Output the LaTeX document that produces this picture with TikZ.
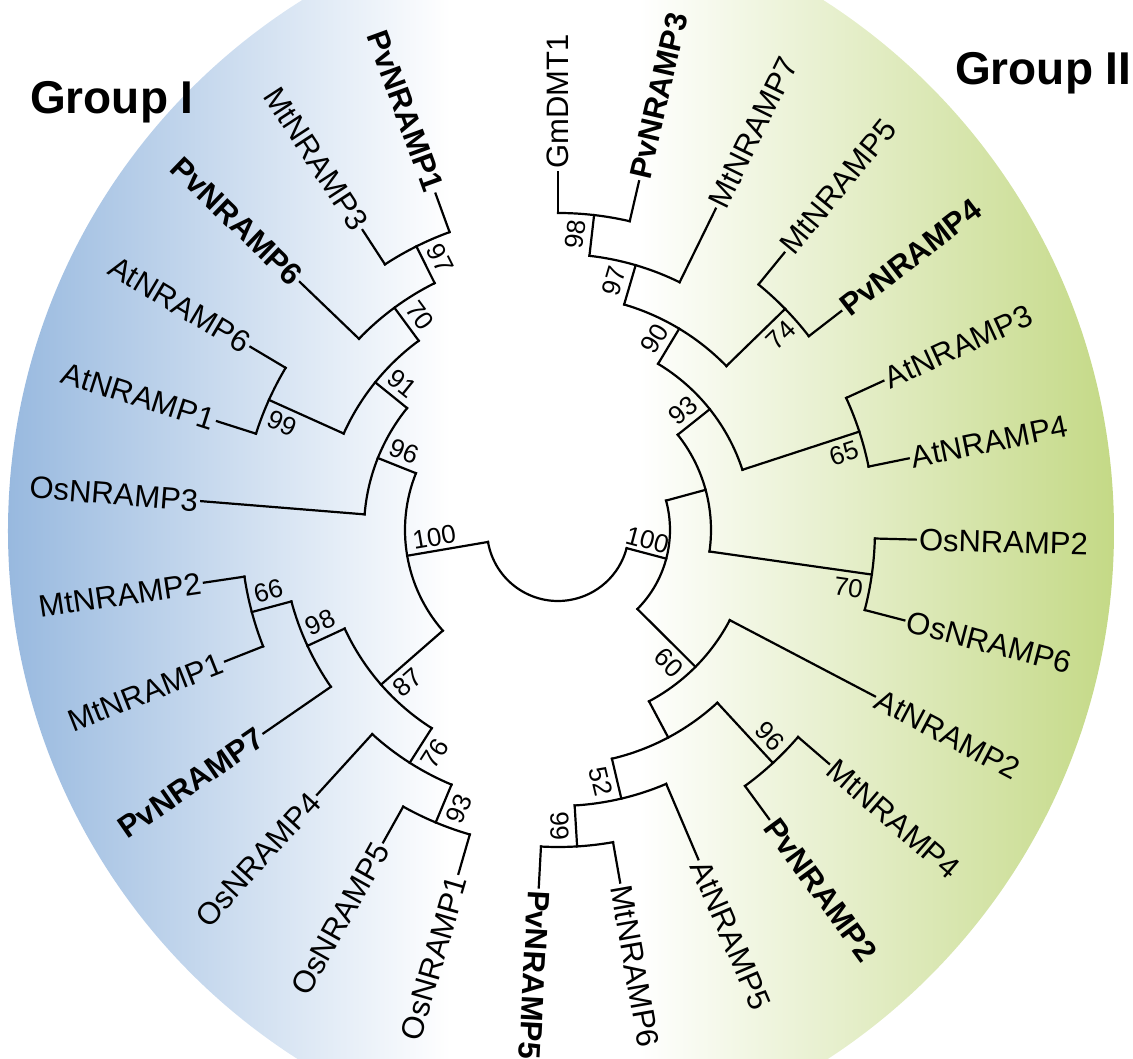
\documentclass[tikz,border=0pt]{standalone}
\usepackage{fontspec}
\setmainfont{Liberation Sans}
\definecolor{grpblue}{RGB}{152,185,223}
\definecolor{grpgreen}{RGB}{196,217,134}
\pgfdeclarehorizontalshading{groupshade}{100bp}{color(0bp)=(grpblue); color(25bp)=(grpblue); color(45bp)=(white); color(53.5bp)=(white); color(75bp)=(grpgreen); color(100bp)=(grpgreen)}
\newcommand{\treebranch}[4]{%
  \coordinate (#1-b) at (#2:#3);
  \coordinate (#1) at (#2:#4);
  \draw[branchline] (#1-b) -- (#1);}
\newcommand{\treearc}[4]{\draw[branchline] (#1-b) arc[start angle=#2, end angle=#3, radius=#4];}

\begin{document}
\begin{tikzpicture}[
  x=1pt, y=1pt,
  branchline/.style={line width=2.2pt, line cap=rect},
  leafr/.style={anchor=west, inner sep=3pt, font=\fontsize{31}{37}\selectfont},
  leafl/.style={anchor=east, inner sep=3pt, font=\fontsize{31}{37}\selectfont},
  pv/.style={font=\bfseries\fontsize{31}{37}\selectfont},
  boot/.style={inner sep=0pt, font=\fontsize{26}{30}\selectfont},
  group/.style={anchor=base west, inner sep=0pt, font=\bfseries\fontsize{46}{52}\selectfont}
]
\useasboundingbox (-558,-529) rectangle (575,530);
\begin{scope}
  \clip (76,-1) circle (626);
  \clip (-74,-1) circle (630);
  \shade[shading=groupshade] (-550,-640) rectangle (556,640);
\end{scope}

% Group II
\treebranch{GmDMT1}{90}{317}{358}
\treebranch{PvNRAMP3}{76.92}{317}{358}
\treebranch{n98R}{83.46}{276}{317}
\treebranch{MtNRAMP7}{63.85}{276}{358}
\treebranch{n97R}{73.65}{235}{276}
\treebranch{MtNRAMP5}{50.77}{317}{358}
\treebranch{PvNRAMP4}{37.69}{317}{358}
\treebranch{n74}{44.23}{235}{317}
\treebranch{n90}{58.94}{194}{235}
\treebranch{AtNRAMP3}{24.62}{317}{358}
\treebranch{AtNRAMP4}{11.54}{317}{358}
\treebranch{n65}{18.08}{194}{317}
\treebranch{n93R}{38.51}{153}{194}
\treebranch{OsNRAMP2}{-1.54}{317}{358}
\treebranch{OsNRAMP6}{-14.62}{317}{358}
\treebranch{n70R}{-8.08}{153}{317}
\treebranch{nH}{15.22}{112}{153}
\treebranch{AtNRAMP2}{-27.69}{194}{358}
\treebranch{MtNRAMP4}{-40.77}{317}{358}
\treebranch{PvNRAMP2}{-53.85}{317}{358}
\treebranch{n96R}{-47.31}{235}{317}
\treebranch{MtNRAMP6}{-80}{317}{358}
\treebranch{PvNRAMP5}{-93.08}{317}{358}
\treebranch{n99R}{-86.54}{276}{317}
\treebranch{AtNRAMP5}{-66.92}{276}{358}
\treebranch{n52}{-76.73}{235}{276}
\treebranch{nY}{-62.02}{194}{235}
\treebranch{n60}{-44.86}{112}{194}
\treebranch{n100R}{-14.82}{71}{112}

\treearc{PvNRAMP3}{76.92}{90}{317}
\treearc{MtNRAMP7}{63.85}{83.46}{276}
\treearc{PvNRAMP4}{37.69}{50.77}{317}
\treearc{n74}{44.23}{73.65}{235}
\treearc{AtNRAMP4}{11.54}{24.62}{317}
\treearc{n65}{18.08}{58.94}{194}
\treearc{OsNRAMP6}{-14.62}{-1.54}{317}
\treearc{n70R}{-8.08}{38.51}{153}
\treearc{PvNRAMP2}{-53.85}{-40.77}{317}
\treearc{PvNRAMP5}{-93.08}{-80}{317}
\treearc{n99R}{-86.54}{-66.92}{276}
\treearc{n52}{-76.73}{-47.31}{235}
\treearc{nY}{-62.02}{-27.69}{194}
\treearc{n60}{-44.86}{15.22}{112}

% Group I
\treebranch{OsNRAMP1}{253.85}{317}{358}
\treebranch{OsNRAMP5}{240.77}{317}{358}
\treebranch{n93L}{247.31}{276}{317}
\treebranch{OsNRAMP4}{227.69}{276}{358}
\treebranch{n76}{237.5}{235}{276}
\treebranch{MtNRAMP1}{201.54}{317}{358}
\treebranch{MtNRAMP2}{188.46}{317}{358}
\treebranch{n66}{195}{276}{317}
\treebranch{PvNRAMP7}{214.62}{276}{358}
\treebranch{n98L}{204.81}{235}{276}
\treebranch{n87}{221.15}{153}{235}
\treebranch{PvNRAMP1}{110}{317}{358}
\treebranch{MtNRAMP3}{123.08}{317}{358}
\treebranch{n97L}{116.54}{276}{317}
\treebranch{PvNRAMP6}{136.15}{276}{358}
\treebranch{n70L}{126.35}{235}{276}
\treebranch{AtNRAMP1}{162.31}{317}{358}
\treebranch{AtNRAMP6}{149.23}{317}{358}
\treebranch{n99L}{155.77}{235}{317}
\treebranch{n91}{141.06}{194}{235}
\treebranch{OsNRAMP3}{175.38}{194}{358}
\treebranch{n96L}{158.22}{153}{194}
\treebranch{n100L}{189.69}{71}{153}

\treearc{OsNRAMP5}{240.77}{253.85}{317}
\treearc{OsNRAMP4}{227.69}{247.31}{276}
\treearc{MtNRAMP2}{188.46}{201.54}{317}
\treearc{n66}{195}{214.62}{276}
\treearc{n98L}{204.81}{237.5}{235}
\treearc{PvNRAMP1}{110}{123.08}{317}
\treearc{n97L}{116.54}{136.15}{276}
\treearc{AtNRAMP6}{149.23}{162.31}{317}
\treearc{n70L}{126.35}{155.77}{235}
\treearc{n91}{141.06}{175.38}{194}
\treearc{n96L}{158.22}{221.15}{153}
\treearc{n100L}{189.69}{345.18}{71}

\node[leafr, rotate=90] (GmDMT1-t) at (GmDMT1) {GmDMT1};
\node[leafr, pv, rotate=76.92] (PvNRAMP3-t) at (PvNRAMP3) {PvNRAMP3};
\node[leafr, rotate=63.85] (MtNRAMP7-t) at (MtNRAMP7) {MtNRAMP7};
\node[leafr, rotate=50.77] (MtNRAMP5-t) at (MtNRAMP5) {MtNRAMP5};
\node[leafr, pv, rotate=37.69] (PvNRAMP4-t) at (PvNRAMP4) {PvNRAMP4};
\node[leafr, rotate=24.62] (AtNRAMP3-t) at (AtNRAMP3) {AtNRAMP3};
\node[leafr, rotate=11.54] (AtNRAMP4-t) at (AtNRAMP4) {AtNRAMP4};
\node[leafr, rotate=-1.54] (OsNRAMP2-t) at (OsNRAMP2) {OsNRAMP2};
\node[leafr, rotate=-14.62] (OsNRAMP6-t) at (OsNRAMP6) {OsNRAMP6};
\node[leafr, rotate=-27.69] (AtNRAMP2-t) at (AtNRAMP2) {AtNRAMP2};
\node[leafr, rotate=-40.77] (MtNRAMP4-t) at (MtNRAMP4) {MtNRAMP4};
\node[leafr, pv, rotate=-53.85] (PvNRAMP2-t) at (PvNRAMP2) {PvNRAMP2};
\node[leafr, rotate=-66.92] (AtNRAMP5-t) at (AtNRAMP5) {AtNRAMP5};
\node[leafr, rotate=-80] (MtNRAMP6-t) at (MtNRAMP6) {MtNRAMP6};
\node[leafr, pv, rotate=-93.08] (PvNRAMP5-t) at (PvNRAMP5) {PvNRAMP5};
\node[leafl, rotate=73.85] (OsNRAMP1-t) at (OsNRAMP1) {OsNRAMP1};
\node[leafl, rotate=60.77] (OsNRAMP5-t) at (OsNRAMP5) {OsNRAMP5};
\node[leafl, rotate=47.69] (OsNRAMP4-t) at (OsNRAMP4) {OsNRAMP4};
\node[leafl, pv, rotate=34.62] (PvNRAMP7-t) at (PvNRAMP7) {PvNRAMP7};
\node[leafl, rotate=21.54] (MtNRAMP1-t) at (MtNRAMP1) {MtNRAMP1};
\node[leafl, rotate=8.46] (MtNRAMP2-t) at (MtNRAMP2) {MtNRAMP2};
\node[leafl, rotate=-4.62] (OsNRAMP3-t) at (OsNRAMP3) {OsNRAMP3};
\node[leafl, rotate=-17.69] (AtNRAMP1-t) at (AtNRAMP1) {AtNRAMP1};
\node[leafl, rotate=-30.77] (AtNRAMP6-t) at (AtNRAMP6) {AtNRAMP6};
\node[leafl, pv, rotate=-43.85] (PvNRAMP6-t) at (PvNRAMP6) {PvNRAMP6};
\node[leafl, rotate=-56.92] (MtNRAMP3-t) at (MtNRAMP3) {MtNRAMP3};
\node[leafl, pv, rotate=-70] (PvNRAMP1-t) at (PvNRAMP1) {PvNRAMP1};

\node[boot, rotate=83.46] (b98R) at (86.56:296) {98};
\node[boot, rotate=73.65] (b97R) at (77.25:255) {97};
\node[boot, rotate=44.23] (b74) at (41.13:296) {74};
\node[boot, rotate=58.94] (b90) at (63.22:214) {90};
\node[boot, rotate=18.08] (b65) at (14.98:296) {65};
\node[boot, rotate=38.51] (b93R) at (43.81:173) {93};
\node[boot, rotate=-8.08] (b70R) at (-11.18:296) {70};
\node[boot, rotate=-47.31] (b96R) at (-44.21:296) {96};
\node[boot, rotate=-86.54] (b99R) at (-89.64:296) {99};
\node[boot, rotate=-76.73] (b52) at (-80.33:255) {52};
\node[boot, rotate=-44.86] (b60) at (-50.16:173) {60};
\node[boot, rotate=-14.82] (b100R) at (-6.5:90) {100};
\node[boot, rotate=67.31] (b93L) at (250.41:296) {93};
\node[boot, rotate=57.5] (b76) at (241.1:255) {76};
\node[boot, rotate=15] (b66) at (191.9:296) {66};
\node[boot, rotate=24.81] (b98L) at (201.21:255) {98};
\node[boot, rotate=41.15] (b87) at (225.43:214) {87};
\node[boot, rotate=-63.46] (b97L) at (113.44:296) {97};
\node[boot, rotate=-53.65] (b70L) at (122.75:255) {70};
\node[boot, rotate=-24.23] (b99L) at (158.87:296) {99};
\node[boot, rotate=-38.94] (b91) at (136.78:214) {91};
\node[boot, rotate=-21.78] (b96L) at (152.92:173) {96};
\node[boot, rotate=9.69] (b100L) at (183.3:124) {100};

\node[group] (groupI) at (-528,416) {Group I};
\node[group] (groupII) at (397,445) {Group II};
\end{tikzpicture}
\end{document}
